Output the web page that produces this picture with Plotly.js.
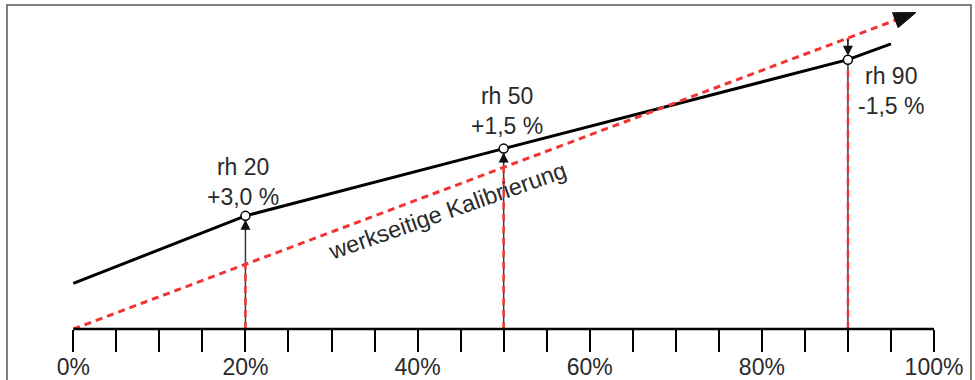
<!DOCTYPE html>
<html>
<head>
<meta charset="utf-8">
<script src="https://cdn.plot.ly/plotly-3.0.1.min.js"></script>
<style>html,body{margin:0;padding:0;background:#fff;}#chart{width:975px;height:380px;}</style>
</head>
<body>
<div id="chart"></div>
<script>
// ---- data ----
const sensorX = [0, 20, 50, 90, 95];          // % rh (true)
const sensorY = [14.1, 35.0, 55.8, 83.3, 88.2]; // sensor reading (schematic)
const calX = [0, 97.9];                         // factory calibration (ideal line)
const calY = [0, 97.9];
const pointX = [20, 50, 90];
const pointY = [35.0, 55.8, 83.3];
const pointLabels = ['rh 20<br>+3,0 %', 'rh 50<br>+1,5 %', 'rh 90<br>-1,5 %'];
const calLabel = 'werkseitige Kalibrierung';
const tickVals = [0,5,10,15,20,25,30,35,40,45,50,55,60,65,70,75,80,85,90,95,100];
const tickText = ['0%','','','','20%','','','','40%','','','','60%','','','','80%','','','','100%'];

// ---- geometry (pixel scales) ----
const W = 975, H = 380, MB = 51;
const X0PX = 73.3, X100PX = 934;
const PXX = (X100PX - X0PX) / 100;  // px per x unit
const PXY = 3.233;                   // px per y unit
const plotH = H - MB;
const xRange = [-X0PX / PXX, (W - X0PX) / PXX];
const yRange = [0, plotH / PXY];

const FONT = 'Liberation Sans, Arial, sans-serif';
const TXT = '#2a2a2a';
const RED = '#f03434';

// arrowhead at end of calibration line (computed in pixel space, converted to data)
const tipX = calX[1], tipY = calY[1];
const ux = PXX, uy = PXY; const ul = Math.hypot(ux, uy);
const dirx = ux / ul, diry = uy / ul; // direction in px (x right, y up)
const headLen = 22, headHalf = 8;
const baseMidX = tipX - headLen * dirx / PXX;
const baseMidY = tipY - headLen * diry / PXY;
const nx = -diry, ny = dirx;
const headX = [tipX, baseMidX + headHalf * nx / PXX, baseMidX - headHalf * nx / PXX, tipX];
const headY = [tipY, baseMidY + headHalf * ny / PXY, baseMidY - headHalf * ny / PXY, tipY];
const lineEnd = baseMidX + 0.3; // calibration line runs into the arrow head

const traces = [];
// thin verticals from axis to sensor point
pointX.forEach((x, i) => {
  traces.push({x: [x, x], y: [0, pointY[i]], mode: 'lines', line: {color: '#3a3a3a', width: 1.5}, hoverinfo: 'skip', showlegend: false});
});
// black sensor line
traces.push({x: sensorX, y: sensorY, mode: 'lines', line: {color: '#000', width: 3}, hoverinfo: 'skip', showlegend: false});
// red dashed verticals from axis to calibration line
pointX.forEach((x) => {
  traces.push({x: [x, x], y: [0, x * calY[1] / calX[1]], mode: 'lines', line: {color: RED, width: 2.5, dash: '7px,5px'}, hoverinfo: 'skip', showlegend: false});
});
// red dashed calibration line
traces.push({x: [calX[0], lineEnd], y: [calY[0], lineEnd * calY[1] / calX[1]], mode: 'lines', line: {color: RED, width: 3, dash: '7px,5px'}, hoverinfo: 'skip', showlegend: false});
// arrow head
traces.push({x: headX, y: headY, mode: 'lines', fill: 'toself', fillcolor: '#111', line: {color: '#111', width: 1}, hoverinfo: 'skip', showlegend: false});
// circles
traces.push({x: pointX, y: pointY, mode: 'markers', marker: {symbol: 'circle', size: 9, color: '#fff', line: {color: '#000', width: 1.5}}, hoverinfo: 'skip', showlegend: false, cliponaxis: false});

const annotations = [];
const shifts = [[-2, 34], [3, 38], [43, -31]];
pointX.forEach((x, i) => {
  const up = pointY[i] > x; // sensor above calibration -> arrow pointing up
  const lenPx = Math.abs(pointY[i] - x) * PXY;
  annotations.push({
    x: x, y: pointY[i], xref: 'x', yref: 'y', text: '', showarrow: true,
    ax: 0, ay: up ? 16 : -lenPx, arrowhead: 2, arrowsize: 1.25, arrowwidth: 1.6,
    arrowcolor: '#111', standoff: 4
  });
  annotations.push({
    x: x, y: pointY[i], xref: 'x', yref: 'y', text: pointLabels[i], showarrow: false,
    xanchor: 'center', yanchor: 'middle', align: 'center',
    xshift: shifts[i][0], yshift: shifts[i][1],
    font: {family: FONT, size: 23, color: TXT}
  });
});
annotations.push({
  x: 43.4, y: 36.6, xref: 'x', yref: 'y', text: calLabel, showarrow: false,
  textangle: -19.4, font: {family: FONT, size: 23.5, color: TXT}
});

const layout = {
  width: W, height: H,
  margin: {l: 0, r: 0, t: 0, b: MB, pad: 0},
  paper_bgcolor: '#fff', plot_bgcolor: '#fff',
  showlegend: false,
  xaxis: {
    range: xRange, showgrid: false, zeroline: false, showline: false,
    tickmode: 'array', tickvals: tickVals, ticktext: tickText,
    ticks: 'outside', ticklen: 22, tickwidth: 2, tickcolor: '#000',
    ticklabelstandoff: -5,
    tickfont: {family: FONT, size: 23, color: TXT}, automargin: false, fixedrange: true
  },
  yaxis: {range: yRange, visible: false, fixedrange: true},
  shapes: [
    {type: 'line', xref: 'x', yref: 'paper', x0: 0, x1: 100, y0: 0, y1: 0, line: {color: '#000', width: 2.5}},
    {type: 'rect', xref: 'paper', yref: 'paper', x0: 7 / W, x1: 971 / W, y0: -0.5, y1: (plotH - 5) / plotH, line: {color: '#555', width: 1.5}}
  ],
  annotations: annotations
};

Plotly.newPlot('chart', traces, layout, {displayModeBar: false, staticPlot: true});
</script>
</body>
</html>
